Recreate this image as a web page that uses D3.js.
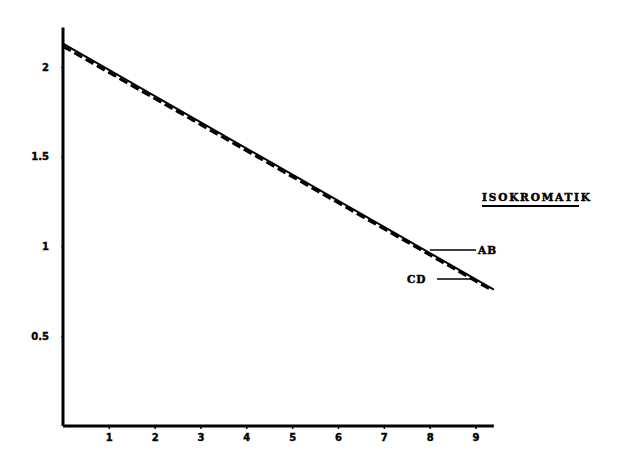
<!DOCTYPE html>
<html>
<head>
<meta charset="utf-8">
<script src="https://cdn.jsdelivr.net/npm/d3@7"></script>
<style>
  body { margin: 0; background: #fff; }
  svg { display: block; }
</style>
</head>
<body>
<div id="chart"></div>
<script>
const xTicks = [1, 2, 3, 4, 5, 6, 7, 8, 9];
const yTicks = [0.5, 1, 1.5, 2];
const yTickLabels = ["0.5", "1", "1.5", "2"];

// garis AB (penuh) dan CD (putus-putus)
const lineAB = [[0, 2.13], [9.4, 0.76]];
const lineCD = [[0, 2.115], [9.3, 0.765]];

const legendTitle = "ISOKROMATIK";
const seriesNames = ["AB", "CD"];

const size = { width: 626, height: 464 };
const origin = { x: 63, y: 426 };

const x = d3.scaleLinear().domain([0, 9]).range([origin.x, 475.5]);
const y = d3.scaleLinear().domain([0, 2]).range([origin.y, 67]);

const svg = d3.select("#chart").append("svg")
    .attr("width", size.width)
    .attr("height", size.height);

const font = "'DejaVu Sans', sans-serif";
const serif = "'DejaVu Serif', serif";

// sumbu x
const xAxis = svg.append("g")
    .attr("transform", `translate(0,${origin.y})`)
    .call(d3.axisBottom(x).tickValues(xTicks).tickSize(3).tickFormat(d3.format("d")));
xAxis.select(".domain").remove();
xAxis.selectAll("text")
    .attr("font-family", font).attr("font-weight", "bold").attr("font-size", 10)
    .attr("stroke", "#000").attr("stroke-width", 0.4)
    .attr("dy", "0.9em");
xAxis.selectAll("line").attr("stroke-width", 1.5);

svg.append("line")
    .attr("x1", origin.x).attr("x2", x(9.4))
    .attr("y1", origin.y).attr("y2", origin.y)
    .attr("stroke", "#000").attr("stroke-width", 3);

// sumbu y
const yAxis = svg.append("g")
    .attr("transform", `translate(${origin.x},0)`)
    .call(d3.axisLeft(y).tickValues(yTicks).tickSize(2)
        .tickFormat((d, i) => yTickLabels[i]));
yAxis.select(".domain").remove();
yAxis.selectAll("text")
    .attr("font-family", font).attr("font-weight", "bold").attr("font-size", 10)
    .attr("stroke", "#000").attr("stroke-width", 0.4)
    .attr("dx", "-0.9em");

svg.append("line")
    .attr("x1", origin.x).attr("x2", origin.x)
    .attr("y1", origin.y).attr("y2", y(2.22))
    .attr("stroke", "#000").attr("stroke-width", 3);

const line = d3.line().x(d => x(d[0])).y(d => y(d[1]));

svg.append("path")
    .attr("d", line(lineCD))
    .attr("fill", "none").attr("stroke", "#000")
    .attr("stroke-width", 3).attr("stroke-dasharray", "9,4");

svg.append("path")
    .attr("d", line(lineAB))
    .attr("fill", "none").attr("stroke", "#000")
    .attr("stroke-width", 2);

// keterangan
svg.append("text")
    .attr("x", 482).attr("y", 201)
    .attr("font-family", serif).attr("font-weight", "bold")
    .attr("font-size", 10.5).attr("textLength", 108)
    .attr("stroke", "#000").attr("stroke-width", 0.5)
    .text(legendTitle);
svg.append("line")
    .attr("x1", 482).attr("x2", 579).attr("y1", 206).attr("y2", 206)
    .attr("stroke", "#000").attr("stroke-width", 2);

svg.append("line")
    .attr("x1", 430).attr("x2", 476).attr("y1", 250).attr("y2", 250)
    .attr("stroke", "#000").attr("stroke-width", 1.5);
svg.append("text")
    .attr("x", 478).attr("y", 254)
    .attr("font-family", serif).attr("font-weight", "bold")
    .attr("font-size", 10.5).attr("letter-spacing", 1)
    .attr("stroke", "#000").attr("stroke-width", 0.5)
    .text(seriesNames[0]);

svg.append("text")
    .attr("x", 407).attr("y", 283)
    .attr("font-family", serif).attr("font-weight", "bold")
    .attr("font-size", 10.5).attr("letter-spacing", 1)
    .attr("stroke", "#000").attr("stroke-width", 0.5)
    .text(seriesNames[1]);
svg.append("line")
    .attr("x1", 437).attr("x2", 474).attr("y1", 279).attr("y2", 279)
    .attr("stroke", "#000").attr("stroke-width", 1.5);
</script>
</body>
</html>
